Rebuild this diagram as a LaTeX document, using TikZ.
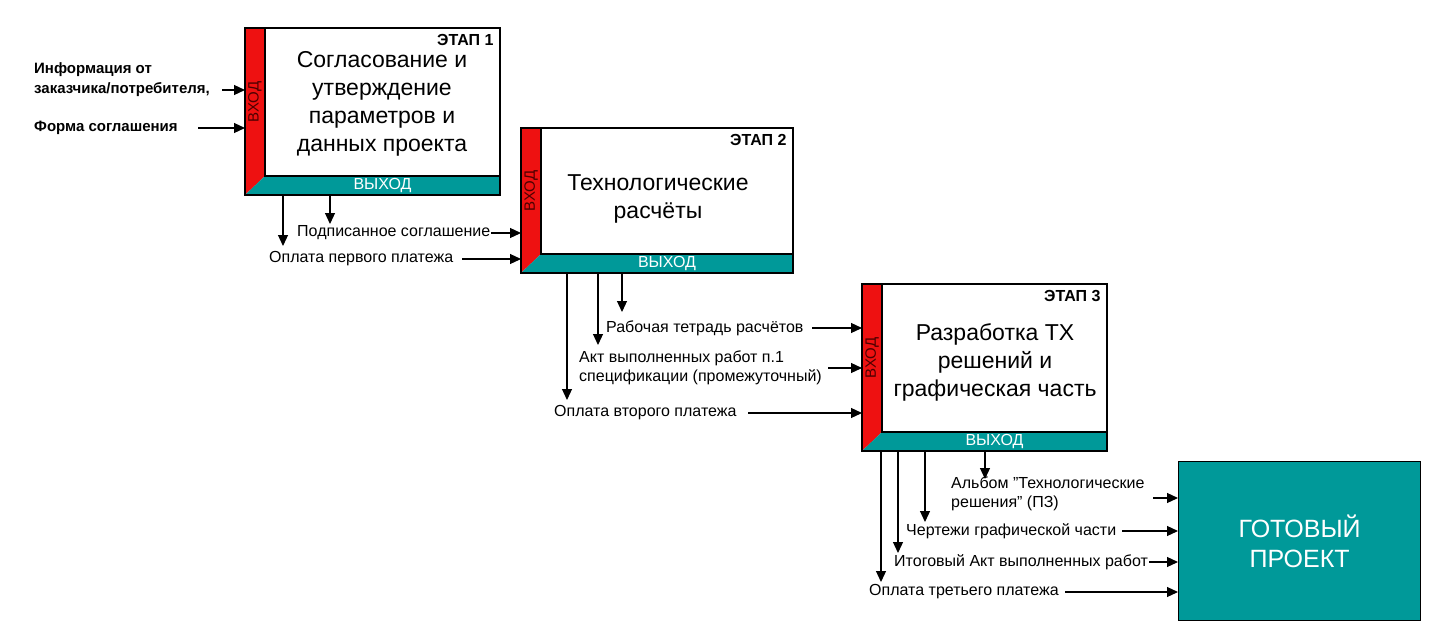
\documentclass[tikz,border=0pt]{standalone}
\usepackage{fontspec}
\setmainfont{Liberation Sans}
\usetikzlibrary{arrows.meta}
\definecolor{tealc}{RGB}{0,153,153}
\definecolor{redc}{RGB}{238,17,17}
\begin{document}
\begin{tikzpicture}[x=1pt,y=-1pt,
  lbl/.style={font=\fontsize{16}{19}\selectfont,inner sep=1pt},
  blbl/.style={font=\fontsize{15}{20}\selectfont\bfseries,inner sep=1pt,align=left},
  ttl/.style={font=\fontsize{23}{28}\selectfont,align=center},
  arr/.style={-{Triangle[length=11pt,width=10pt]},line width=1.2pt},
  box/.style={draw,line width=1.2pt,inner sep=0pt,fill=white}]
\useasboundingbox (0,0) rectangle (1437,642);
\newcommand\stagebox[6]{%
  \node[box,minimum width=#4-#2,minimum height=#5-#3,anchor=north west] (#1) at (#2,#3) {};
  \fill[redc] (#2,#3) -- (#2+20,#3) -- (#2+20,#5-19) -- (#2,#5) -- cycle;
  \fill[tealc] (#2,#5) -- (#2+20,#5-19) -- (#4,#5-19) -- (#4,#5) -- cycle;
  \draw[line width=1.2pt] (#2,#3) rectangle (#4,#5);
  \draw[line width=1.2pt] (#2+20,#3) -- (#2+20,#5-19) -- (#4,#5-19);
  \node[rotate=90,font=\fontsize{15}{17}\selectfont,text=black!70!red] (#1vx) at (#2+10,{(#3+#5-19)/2}) {ВХОД};
  \node[text=white,font=\fontsize{16}{18}\selectfont] (#1vy) at ({(#2+#4)/2+10},#5-9.5) {ВЫХОД};
  \node[font=\fontsize{16}{18}\selectfont\bfseries,anchor=north east] (#1et) at (#4-3,#3+3) {ЭТАП #6};
}
\stagebox{s1}{245}{28}{500}{195}{1}
\stagebox{s2}{521}{128}{793}{273}{2}
\stagebox{s3}{862}{284}{1107}{451}{3}
\node[ttl] (t1) at (382,104) {Согласование и\\утверждение\\параметров и\\данных проекта};
\node[ttl] (t2) at (658,199) {Технологические\\расчёты};
\node[ttl] (t3) at (995,362) {Разработка ТХ\\решений и\\графическая часть};
\node[draw,line width=1.2pt,fill=tealc,minimum width=242,minimum height=159,anchor=north west,
  text=white,font=\fontsize{25}{30}\selectfont,align=center] (fin) at (1178,461) {ГОТОВЫЙ\\ПРОЕКТ};
% stage 1 inputs
\node[blbl,anchor=west] (i1) at (33,80) {Информация от\\заказчика/потребителя,};
\node[blbl,anchor=west] (i2) at (33,128) {Форма соглашения};
\draw[arr] (222,90) -- (s1.west |- 0,90);
\draw[arr] (198,128) -- (s1.west |- i2);
% stage 1 outputs
\node[lbl,anchor=west] (o11) at (296,233) {Подписанное соглашение};
\node[lbl,anchor=west] (o12) at (268,259) {Оплата первого платежа};
\coordinate (a11) at (330,195); \coordinate (a12) at (283,195);
\draw[arr] (a11) -- (330,224);
\draw[arr] (a12) -- (283,246);
\draw[arr] (o11.east) -- (s2.west |- o11.east);
\draw[arr] (462,259) -- (s2.west |- o12.east);
% stage 2 outputs
\node[lbl,anchor=west] (o21) at (605,328) {Рабочая тетрадь расчётов};
\node[lbl,anchor=west,align=left] (o22) at (578,368) {Акт выполненных работ п.1\\спецификации (промежуточный)};
\node[lbl,anchor=west] (o23) at (553,413) {Оплата второго платежа};
\draw[arr] (622,273) -- (622,312);
\draw[arr] (598,273) -- (598,345);
\draw[arr] (567,273) -- (567,400);
\draw[arr] (812,328) -- (s3.west |- o21.east);
\draw[arr] (828,368) -- (s3.west |- o22.east);
\draw[arr] (748,413) -- (s3.west |- o23.east);
% stage 3 outputs
\node[lbl,anchor=west,align=left] (o31) at (950,494) {Альбом "Технологические\\решения" (ПЗ)};
\node[lbl,anchor=west] (o32) at (905,531) {Чертежи графической части};
\node[lbl,anchor=west] (o33) at (893,562) {Итоговый Акт выполненных работ};
\node[lbl,anchor=west] (o34) at (868,592) {Оплата третьего платежа};
\draw[arr] (985,451) -- (985,479);
\draw[arr] (925,451) -- (925,522);
\draw[arr] (898,451) -- (898,553);
\draw[arr] (881,451) -- (881,582);
\draw[arr] (1153,498) -- (fin.west |- 0,498);
\draw[arr] (1122,531) -- (fin.west |- o32.east);
\draw[arr] (o33.east) -- (fin.west |- o33.east);
\draw[arr] (1065,592) -- (fin.west |- o34.east);
\end{tikzpicture}
\end{document}
